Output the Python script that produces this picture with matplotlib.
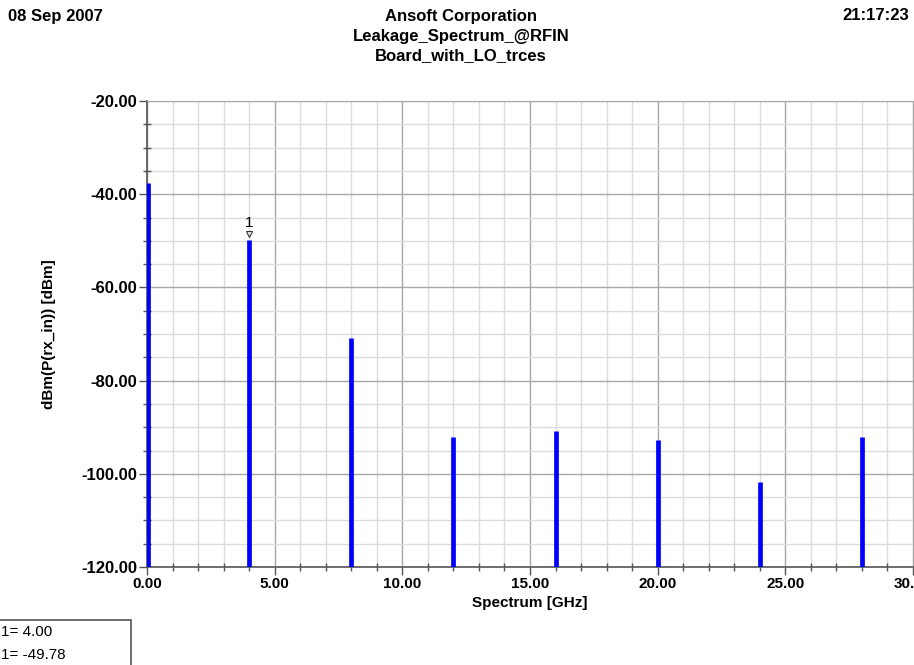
import matplotlib.pyplot as plt
from matplotlib.ticker import MultipleLocator, FormatStrFormatter

plt.rcParams['font.family'] = ['Liberation Sans', 'DejaVu Sans']

# Spectrum lines: frequency [GHz] and level [dBm]
freq_ghz = [0.05, 4.0, 8.0, 12.0, 16.0, 20.0, 24.0, 28.0]
level_dbm = [-37.6, -49.78, -70.8, -92.0, -90.9, -92.7, -101.7, -92.0]

marker_x = 4.00
marker_y = -49.78

fig = plt.figure(figsize=(9.14, 6.65), dpi=100)
ax = fig.add_axes([147 / 914, 1 - 567 / 665, 766 / 914, 466 / 665])

ax.set_xlim(0, 30)
ax.set_ylim(-120, -20)

ax.vlines(freq_ghz, -120, level_dbm, colors='#0000ff', linewidth=3.4, zorder=3)

# marker 1 on the 4 GHz line
ax.plot([marker_x], [marker_y + 1.2], marker='v', markersize=4, markerfacecolor='none',
        markeredgecolor='#333333', markeredgewidth=0.8, zorder=4)
ax.text(marker_x, marker_y + 2.0, '1', ha='center', va='bottom', fontsize=11, zorder=4)

ax.xaxis.set_major_locator(MultipleLocator(5))
ax.xaxis.set_minor_locator(MultipleLocator(1))
ax.yaxis.set_major_locator(MultipleLocator(20))
ax.yaxis.set_minor_locator(MultipleLocator(5))
ax.xaxis.set_major_formatter(FormatStrFormatter('%.2f'))
ax.yaxis.set_major_formatter(FormatStrFormatter('%.2f'))

ax.grid(which='major', color='#a8a8a8', linewidth=1.0, zorder=0)
ax.grid(which='minor', color='#dcdcdc', linewidth=1.0, zorder=0)
ax.set_axisbelow(True)

for side in ['top', 'right']:
    ax.spines[side].set_color('#a8a8a8')
for side in ['left', 'bottom']:
    ax.spines[side].set_color('#555555')
    ax.spines[side].set_linewidth(1.2)

ax.tick_params(which='major', direction='out', length=6, color='#555555', width=1, pad=1)
ax.tick_params(axis='x', which='major', labelsize=11)
ax.tick_params(axis='y', which='major', labelsize=12)
ax.tick_params(which='minor', direction='inout', length=6, color='#555555', width=1)
for lab in ax.get_xticklabels() + ax.get_yticklabels():
    lab.set_fontweight('bold')

ax.set_xlabel('Spectrum [GHz]', fontsize=11, fontweight='bold', labelpad=4)
ax.set_ylabel('dBm(P(rx_in)) [dBm]', fontsize=11, fontweight='bold', labelpad=18)

# page header
hdr = dict(fontsize=12, fontweight='bold', va='center')
fig.text(8 / 914, 1 - 16 / 665, '08 Sep 2007', ha='left', **hdr)
fig.text(909 / 914, 1 - 16 / 665, '21:17:23', ha='right', **hdr)
fig.text(461 / 914, 1 - 16 / 665, 'Ansoft Corporation', ha='center', **hdr)
fig.text(461 / 914, 1 - 36 / 665, 'Leakage_Spectrum_@RFIN', ha='center', **hdr)
fig.text(461 / 914, 1 - 56 / 665, 'Board_with_LO_trces', ha='center', **hdr)

# marker readout box
box = plt.Rectangle((-5 / 914, -10 / 665), 136 / 914, 55 / 665, transform=fig.transFigure,
                    facecolor='white', edgecolor='#555555', linewidth=1.2)
fig.add_artist(box)
fig.text(1 / 914, 1 - 632 / 665, '1= %.2f' % marker_x, fontsize=11, ha='left', va='center')
fig.text(1 / 914, 1 - 655 / 665, '1= %.2f' % marker_y, fontsize=11, ha='left', va='center')

fig.savefig('out.png', dpi=100)
